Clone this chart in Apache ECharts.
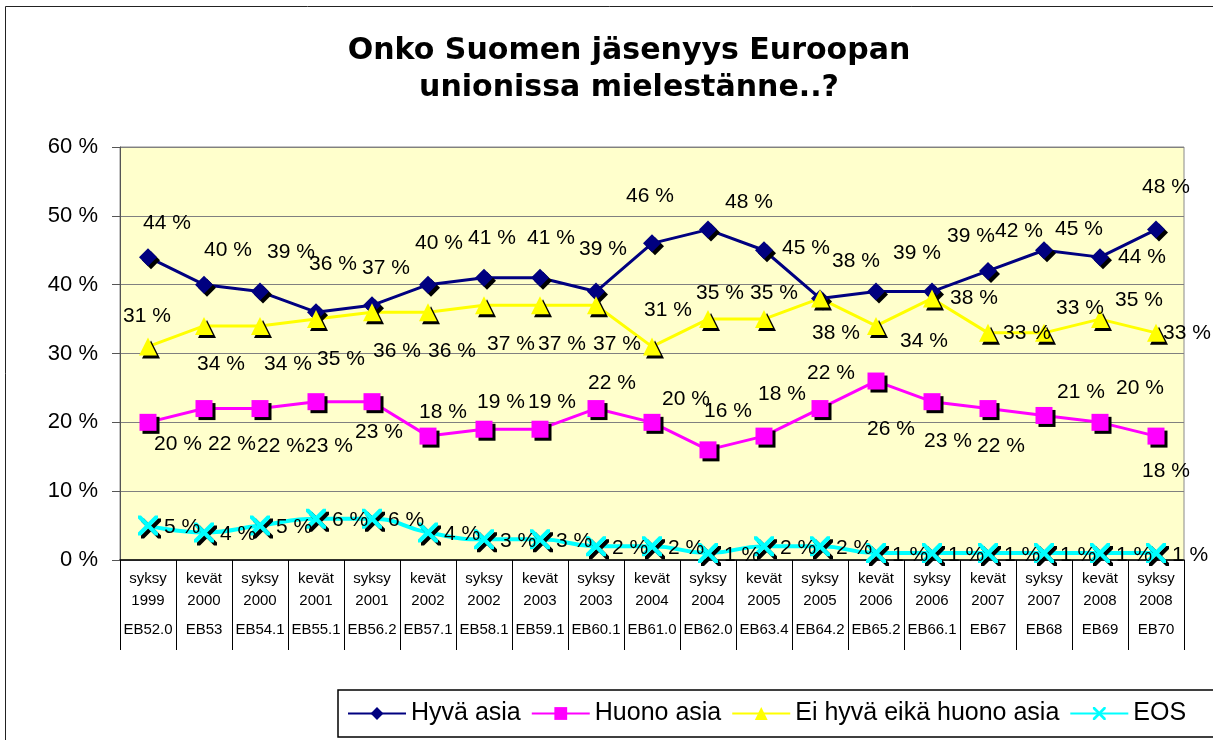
<!DOCTYPE html>
<html>
<head>
<meta charset="utf-8">
<script src="https://cdn.jsdelivr.net/npm/echarts@6/dist/echarts.min.js"></script>
<style>
    html, body { margin: 0; padding: 0; background: #fff; }
    #myChart { width: 1213px; height: 740px; }
</style>
</head>
<body>
<div id="myChart"></div>
<script>
// categories (three rows under the axis)
const seasons = ['syksy','kevät','syksy','kevät','syksy','kevät','syksy','kevät','syksy','kevät',
    'syksy','kevät','syksy','kevät','syksy','kevät','syksy','kevät','syksy'];
const years = ['1999','2000','2000','2001','2001','2002','2002','2003','2003','2004',
    '2004','2005','2005','2006','2006','2007','2007','2008','2008'];
const waves = ['EB52.0','EB53','EB54.1','EB55.1','EB56.2','EB57.1','EB58.1','EB59.1','EB60.1','EB61.0',
    'EB62.0','EB63.4','EB64.2','EB65.2','EB66.1','EB67','EB68','EB69','EB70'];

// values, %
const hyva = [44,40,39,36,37,40,41,41,39,46,48,45,38,39,39,42,45,44,48];
const huono = [20,22,22,23,23,18,19,19,22,20,16,18,22,26,23,22,21,20,18];
const eiKumpikaan = [31,34,34,35,36,36,37,37,37,31,35,35,38,34,38,33,33,35,33];
const eos = [5,4,5,6,6,4,3,3,2,2,1,2,2,1,1,1,1,1,1];

// where each data label sits relative to its marker (layout only)
const hyvaLabelOff = [[19,-34],[24,-34],[31,-39],[17,-48],[14,-37],[11,-41],[8,-40],[11,-40],[7,-42],[-2,-47],
    [41,-27],[42,-2],[36,-37],[41,-38],[39,-55],[31,-40],[35,-21],[42,0],[10,-42]];
const huonoLabelOff = [[30,22],[28,36],[21,38],[13,45],[7,31],[15,-24],[17,-27],[12,-27],[16,-25],[34,-23],
    [20,-39],[18,-42],[11,-35],[15,48],[16,40],[13,38],[37,-23],[40,-34],[10,35]];
const eiLabelOff = [[-1,-30],[17,38],[28,38],[25,40],[25,39],[24,39],[27,39],[22,39],[21,39],[16,-36],
    [12,-26],[10,-26],[16,35],[48,15],[42,0],[39,0],[36,-25],[39,-19],[31,0]];

const FONT = 'Liberation Sans, Arial, sans-serif';
const xMark = 'path://M0,0 L3,0 L10,7 L17,0 L20,0 L20,3 L13,10 L20,17 L20,20 L17,20 L10,13 L3,20 L0,20 L0,17 L7,10 L0,3 Z';

const shadow = {shadowColor:'#000', shadowBlur:0, shadowOffsetX:3, shadowOffsetY:3};

function withLabels(values, offsets){
    return values.map((v,i)=>{
        return {value:v, label:{offset:offsets[i]}};
    });
}

function lineSeries(name, values, color, symbol, size, offsets){
    return {
        name:name,
        type:'line',
        data:offsets ? withLabels(values, offsets) : values,
        symbol:symbol,
        symbolSize:size,
        showAllSymbol:true,
        lineStyle:{color:color, width:3},
        itemStyle:Object.assign({color:color}, shadow),
        label:{
            show:true,
            position:'inside',
            formatter:'{c} %',
            color:'#000',
            fontSize:21,
            fontFamily:FONT
        }
    };
}

const chart = echarts.init(document.getElementById('myChart'));

const eosSeries = lineSeries('EOS', eos, '#00ffff', xMark, 20, null);
eosSeries.smooth = true;
eosSeries.lineStyle.width = 4;
eosSeries.label.position = 'right';
eosSeries.label.distance = 6;
eosSeries.label.offset = [0, 2];

chart.setOption({
    animation:false,
    title:{
        text:'Onko Suomen jäsenyys Euroopan\nunionissa mielestänne..?',
        left:629,
        textAlign:'center',
        top:33,
        padding:0,
        textStyle:{
            fontFamily:'DejaVu Sans, sans-serif',
            fontWeight:'bold',
            fontSize:30,
            lineHeight:37,
            color:'#000'
        }
    },
    graphic:[{
        type:'rect',
        z:-10,
        shape:{x:5.5, y:6.5, width:1300, height:800},
        style:{fill:'none', stroke:'#222', lineWidth:1}
    }],
    legend:{
        left:338,
        top:690,
        width:1000,
        itemWidth:58,
        itemHeight:16,
        itemGap:10,
        padding:[11,40,11,9],
        borderColor:'#000',
        borderWidth:1.5,
        textStyle:{fontSize:25, fontFamily:FONT, color:'#000'},
        data:['Hyvä asia','Huono asia','Ei hyvä eikä huono asia','EOS']
    },
    grid:{
        left:120,
        right:29,
        top:147,
        bottom:180,
        show:true,
        backgroundColor:'#ffffcc',
        borderColor:'#8a8a8a',
        borderWidth:1
    },
    xAxis:{
        type:'category',
        data:seasons.map((s,i)=>s+' '+years[i]),
        axisLine:{lineStyle:{color:'#000', width:1.5}},
        axisTick:{show:true, interval:0, length:90, lineStyle:{color:'#000'}},
        axisLabel:{
            interval:0,
            margin:8,
            color:'#000',
            fontFamily:FONT,
            formatter:(v,i)=>'{a|'+seasons[i]+'}\n{a|'+years[i]+'}\n{b|'+waves[i]+'}',
            rich:{
                a:{fontSize:15, lineHeight:22, fontFamily:FONT, color:'#000'},
                b:{fontSize:15, lineHeight:36, fontFamily:FONT, color:'#000'}
            }
        }
    },
    yAxis:{
        type:'value',
        min:0,
        max:60,
        interval:10,
        axisLine:{show:true, lineStyle:{color:'#555'}},
        axisTick:{show:true, length:8, lineStyle:{color:'#555'}},
        axisLabel:{formatter:'{value} %', fontSize:22, fontFamily:FONT, color:'#000', margin:22},
        splitLine:{lineStyle:{color:'#808080'}}
    },
    series:[
        lineSeries('Hyvä asia', hyva, '#000080', 'diamond', 18, hyvaLabelOff),
        lineSeries('Huono asia', huono, '#ff00ff', 'rect', 17, huonoLabelOff),
        lineSeries('Ei hyvä eikä huono asia', eiKumpikaan, '#ffff00', 'triangle', 18, eiLabelOff),
        eosSeries
    ]
});
</script>
</body>
</html>
